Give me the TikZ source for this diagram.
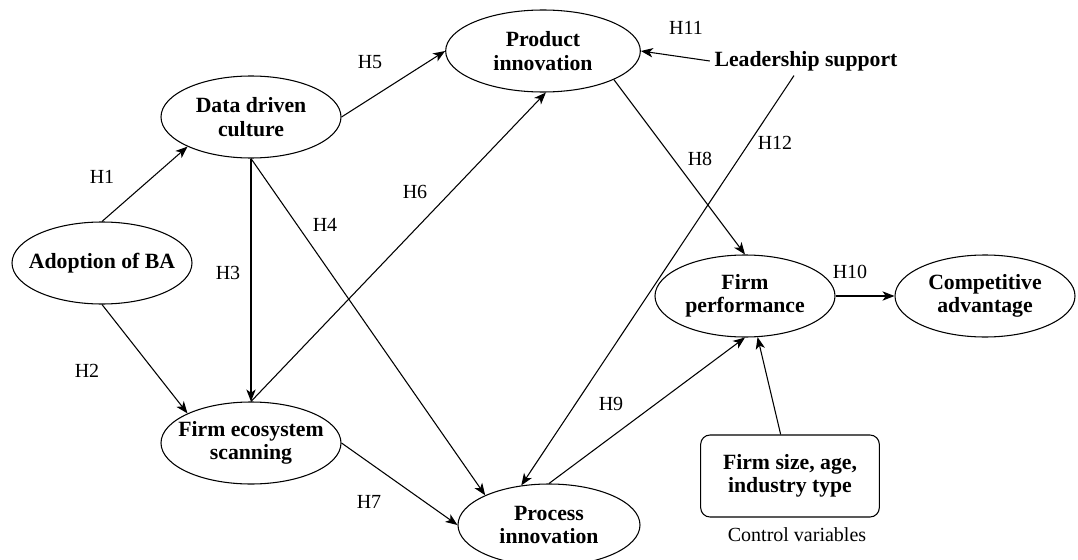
\documentclass[tikz,border=0pt]{standalone}
\usepackage{fontspec}
\setmainfont{Liberation Serif}
\usetikzlibrary{shapes.geometric,arrows.meta}

\begin{document}
\begin{tikzpicture}[
    x=0.75pt, y=-0.75pt,
    construct/.style={ellipse, draw=black, line width=0.8pt, fill=white,
        minimum width=135pt, minimum height=61.5pt, inner xsep=-16pt, inner ysep=-4pt,
        align=center, font=\fontsize{16.3}{17.5}\selectfont\bfseries},
    ctrlbox/.style={rectangle, rounded corners=7pt, draw=black, line width=0.8pt,
        minimum width=134pt, minimum height=61.5pt, inner sep=0pt,
        align=center, font=\fontsize{16.3}{17.5}\selectfont\bfseries},
    link/.style={line width=0.8pt, -{Stealth[length=9pt,width=7pt,inset=2.5pt]}},
    hyp/.style={font=\fontsize{15}{17}\selectfont}
]
    \useasboundingbox (0,0) rectangle (1078,560);

    \node[construct] (adopt) at (102,263) {Adoption of BA};
    \node[construct] (data) at (251,117) {Data driven\\culture};
    \node[construct] (eco) at (251,443) {Firm ecosystem\\scanning};
    \node[construct, minimum width=146pt] (prod) at (543,51) {Product\\innovation};
    \node[construct, minimum width=136.5pt] (proc) at (549,525) {Process\\innovation};
    \node[construct] (perf) at (745,296) {Firm\\performance};
    \node[construct] (comp) at (985,296) {Competitive\\advantage};
    \node[font=\fontsize{16.3}{17.5}\selectfont\bfseries] (lead) at (806,61) {Leadership support};
    \node[ctrlbox] (size) at (790,476) {Firm size, age,\\industry type};
    \node[hyp] (ctrl) at (797,535) {Control variables};

    \draw[link] (adopt.north) -- (data.205);
    \draw[link] (adopt.south) -- (eco.155);
    \draw[link] (data.south) -- (eco.north);
    \draw[link] (data.south) -- (proc.155);
    \draw[link] (data.east) -- (prod.west);
    \draw[link] (eco.north) -- (prod.-86);
    \draw[link] (eco.east) -- (proc.west);
    \draw[link] (prod.-22) -- (perf.north);
    \draw[link] (proc.north) -- (perf.south);
    \draw[link] (perf.east) -- (comp.west);
    \draw[link] (lead.west) -- (prod.east);
    \draw[link] ([xshift=-9pt]lead.south) -- (proc.125);
    \draw[link] ([xshift=-7pt]size.north) -- (perf.-73);

    \node[hyp] (h1) at (102,177) {H1};
    \node[hyp] (h2) at (87,371) {H2};
    \node[hyp] (h3) at (228,273) {H3};
    \node[hyp] (h4) at (325,225) {H4};
    \node[hyp] (h5) at (370,62) {H5};
    \node[hyp] (h6) at (415,192) {H6};
    \node[hyp] (h7) at (369,502) {H7};
    \node[hyp] (h8) at (700,159) {H8};
    \node[hyp] (h9) at (611,404) {H9};
    \node[hyp] (h10) at (850,272) {H10};
    \node[hyp] (h11) at (686,28) {H11};
    \node[hyp] (h12) at (775,143) {H12};
\end{tikzpicture}
\end{document}
